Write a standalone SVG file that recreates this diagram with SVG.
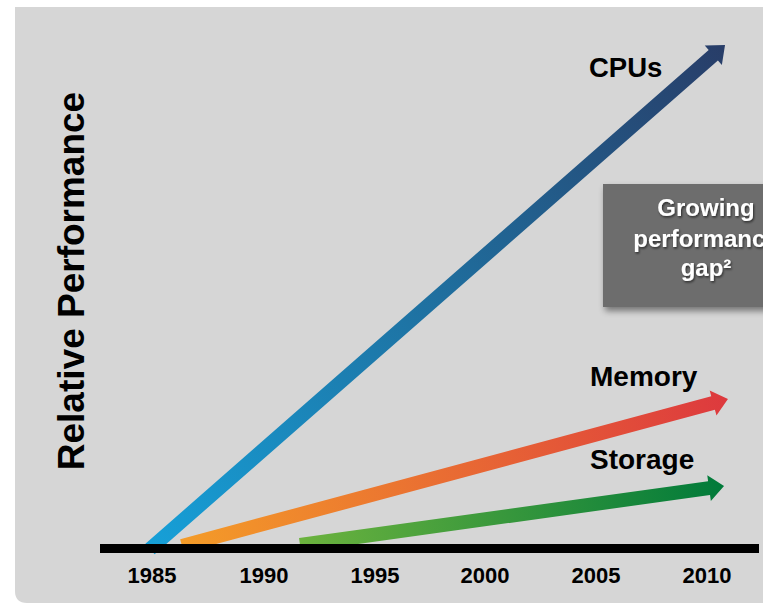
<svg xmlns="http://www.w3.org/2000/svg" width="763" height="603" viewBox="0 0 763 603">
<style>
.lbl{font-family:"Liberation Sans",Arial,sans-serif;font-weight:bold;fill:#000}
.yr{font-family:"Liberation Sans",Arial,sans-serif;font-weight:bold;font-size:22px;fill:#000;text-anchor:middle}
.box{font-family:"Liberation Sans",Arial,sans-serif;font-weight:bold;font-size:24px;fill:#fff;text-anchor:middle}
</style>
<defs>
<linearGradient id="gCpu" x1="0" y1="0" x2="1" y2="0"><stop offset="0" stop-color="#16a0d8"/><stop offset="0.5" stop-color="#1f6f9f"/><stop offset="1" stop-color="#283d68"/></linearGradient>
<linearGradient id="gMem" x1="0" y1="0" x2="1" y2="0"><stop offset="0" stop-color="#f49c28"/><stop offset="1" stop-color="#dd393e"/></linearGradient>
<linearGradient id="gSto" x1="0" y1="0" x2="1" y2="0"><stop offset="0" stop-color="#6cb33e"/><stop offset="1" stop-color="#007a3a"/></linearGradient>
<filter id="sh" x="-10%" y="-10%" width="130%" height="140%"><feDropShadow dx="2" dy="4" stdDeviation="3" flood-color="#000" flood-opacity="0.45"/></filter>
<filter id="tsh" x="-10%" y="-20%" width="130%" height="150%"><feDropShadow dx="1" dy="1.5" stdDeviation="0.8" flood-color="#000" flood-opacity="0.6"/></filter>
</defs>
<rect width="763" height="603" fill="#fff"/>
<path d="M15 7 H763 V603 H27 Q15 603 15 591 Z" fill="#d6d6d6"/>
<g id="connectors">
<g id="cpu-arrow" transform="translate(150 549) rotate(-41.23)">
<polygon points="0,-7 749,-7 749,-13 764.6,0 749,13 749,7 0,7" fill="url(#gCpu)"/>
</g>
<g id="memory-arrow" transform="translate(182 546) rotate(-15.07)">
<polygon points="0,-7 550,-7 550,-13 565.4,0 550,13 550,7 0,7" fill="url(#gMem)"/>
</g>
<g id="storage-arrow" transform="translate(300 545) rotate(-7.92)">
<polygon points="0,-7 413,-7 413,-13 428.1,0 413,13 413,7 0,7" fill="url(#gSto)"/>
</g>
</g>
<g id="axis">
<rect x="100" y="544" width="659" height="9" fill="#000"/>
<text class="yr" x="152" y="583">1985</text>
<text class="yr" x="264" y="583">1990</text>
<text class="yr" x="375" y="583">1995</text>
<text class="yr" x="485" y="583">2000</text>
<text class="yr" x="596" y="583">2005</text>
<text class="yr" x="707" y="583">2010</text>
</g>
<g id="ylabel">
<text class="lbl" font-size="37" text-anchor="middle" transform="translate(84 281) rotate(-90)">Relative Performance</text>
</g>
<g id="cpu-label"><text class="lbl" font-size="27.5" x="589" y="77">CPUs</text></g>
<g id="memory-label"><text class="lbl" font-size="28" x="590" y="386">Memory</text></g>
<g id="storage-label"><text class="lbl" font-size="28" x="590" y="469">Storage</text></g>
<g id="gap-box">
<rect x="603" y="184" width="200" height="123" fill="#6d6d6d" filter="url(#sh)"/>
<g filter="url(#tsh)">
<text class="box" x="706" y="216">Growing</text>
<text class="box" x="706" y="247">performance</text>
<text class="box" x="706" y="276">gap²</text>
</g>
</g>
</svg>
